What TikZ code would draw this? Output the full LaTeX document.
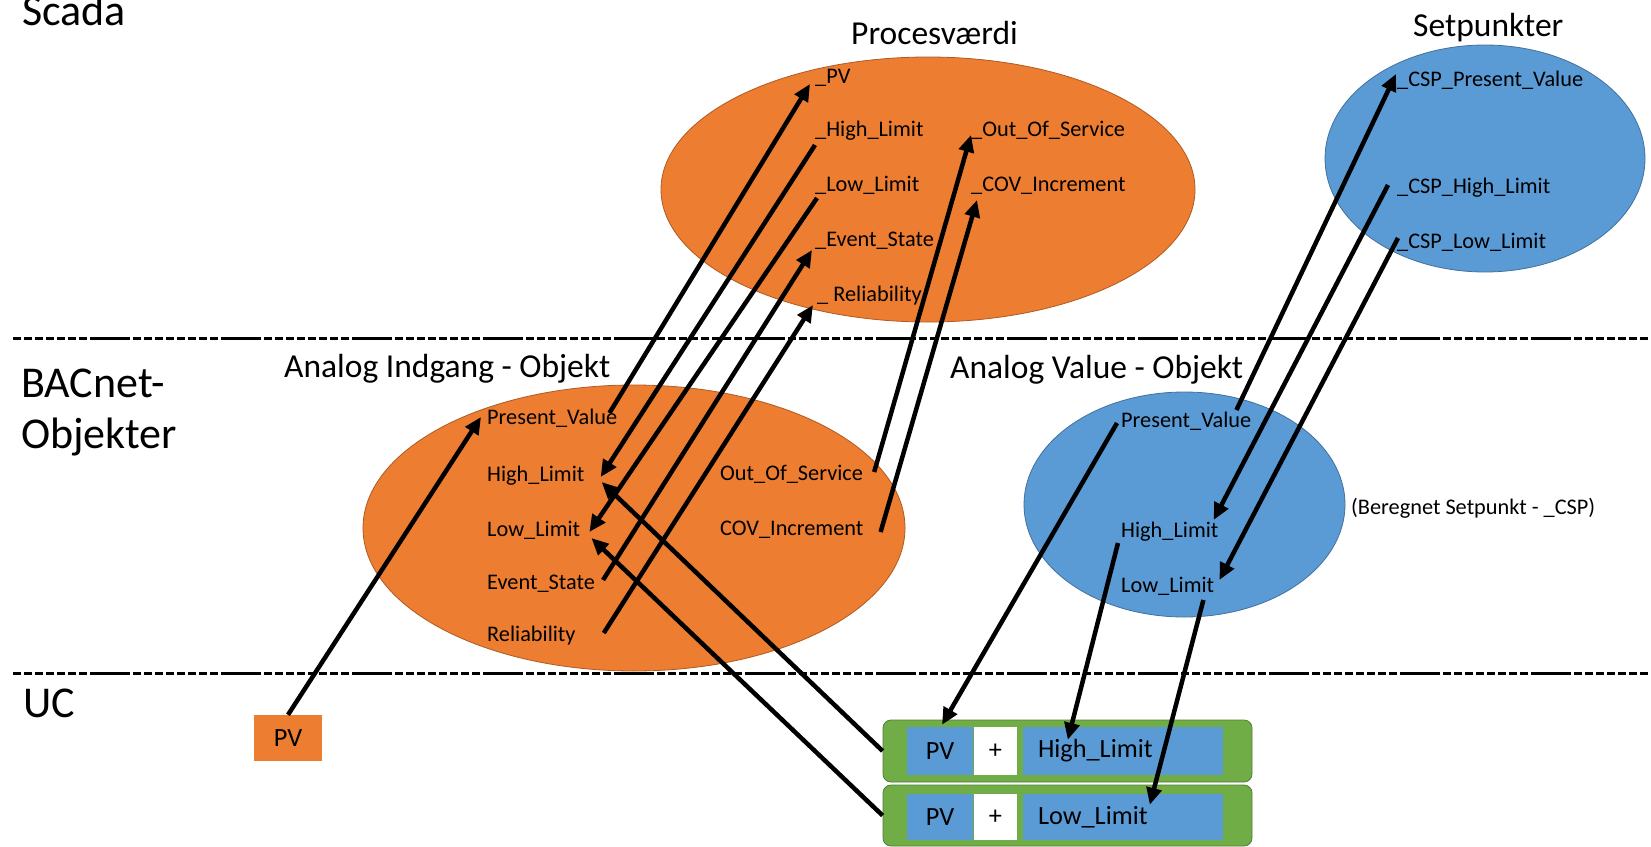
\documentclass[tikz,border=0pt]{standalone}
\usepackage{fontspec}
\setmainfont{Carlito}
\usetikzlibrary{shapes.geometric,arrows.meta,calc}
\definecolor{orng}{HTML}{ED7D31}
\definecolor{orngD}{HTML}{AE5A21}
\definecolor{blu}{HTML}{5B9BD5}
\definecolor{bluD}{HTML}{41719C}
\definecolor{grn}{HTML}{70AD47}
\definecolor{grnD}{HTML}{507E32}
\newcommand\myS{\fontsize{22.3}{26}\selectfont}
\newcommand\myM{\fontsize{33.5}{40}\selectfont}
\newcommand\myL{\fontsize{44}{51}\selectfont}
\newcommand\myB{\fontsize{26.3}{31}\selectfont}
\begin{document}
\begin{tikzpicture}[x=1pt,y=-1pt,
  lbl/.style={anchor=base west,inner sep=0pt,font=\myS},
  ttl/.style={anchor=base west,inner sep=0pt,font=\myM},
  big/.style={anchor=base west,inner sep=0pt,font=\myL},
  ell/.style={ellipse,inner sep=0pt,line width=0.8pt},
  arr/.style={line width=4.5pt,-{Triangle[length=17pt,width=15pt]}},
  sep/.style={line width=3pt,dash pattern=on 40pt off 3pt on 8pt off 3pt on 8pt off 3pt on 8pt off 3pt on 8pt off 3pt on 8pt off 3pt on 8pt off 3pt on 8pt off 3pt on 8pt off 3pt,dash phase=52pt},
  cell/.style={fill=blu,inner sep=0pt,font=\myB},
  grbox/.style={draw=grnD,fill=grn,rounded corners=8pt,minimum width=369pt,inner sep=0pt,line width=0.8pt}]
\useasboundingbox (0,0) rectangle (1651,846);

% separators
\draw[sep] (11,338) -- (1651,338);
\draw[sep] (11,673) -- (1651,673);

% level titles
\node[big] (tScada) at (22,25) {Scada};
\node[big] (tBac1) at (21,397) {BACnet-};
\node[big] (tBac2) at (21,448) {Objekter};
\node[big] (tUC) at (23,717) {UC};

% ellipses
\node[ell,fill=orng,draw=orngD,minimum width=534pt,minimum height=265pt] (scEll) at (928,189.5) {};
\node[ell,fill=blu,draw=bluD,minimum width=320pt,minimum height=227pt] (spEll) at (1485,158.5) {};
\node[ell,fill=orng,draw=orngD,minimum width=542pt,minimum height=286pt] (aiEll) at (634,528) {};
\node[ell,fill=blu,draw=bluD,minimum width=321pt,minimum height=225pt] (avEll) at (1184.5,504.5) {};

% group titles
\node[ttl] (tProc) at (851,44) {Procesværdi};
\node[ttl] (tSet) at (1413,36) {Setpunkter};
\node[ttl] (tAI) at (284,377) {Analog Indgang - Objekt};
\node[ttl] (tAV) at (950,378) {Analog Value - Objekt};

% Scada process values
\node[lbl] (scPV) at (815,83) {\_PV};
\node[lbl] (scHL) at (815,136) {\_High\_Limit};
\node[lbl] (scLL) at (815,191) {\_Low\_Limit};
\node[lbl] (scES) at (815,246) {\_Event\_State};
\node[lbl] (scRel) at (817,301) {\_ Reliability};
\node[lbl] (scOOS) at (971,136) {\_Out\_Of\_Service};
\node[lbl] (scCOV) at (971,191) {\_COV\_Increment};

% Setpunkter
\node[lbl] (cspPV) at (1397,86) {\_CSP\_Present\_Value};
\node[lbl] (cspHL) at (1397,193) {\_CSP\_High\_Limit};
\node[lbl] (cspLL) at (1397,248) {\_CSP\_Low\_Limit};

% Analog input object
\node[lbl] (aiPV) at (487,424) {Present\_Value};
\node[lbl] (aiHL) at (487,481) {High\_Limit};
\node[lbl] (aiLL) at (487,536) {Low\_Limit};
\node[lbl] (aiES) at (487,589) {Event\_State};
\node[lbl] (aiRel) at (487,641) {Reliability};
\node[lbl] (aiOOS) at (720,480) {Out\_Of\_Service};
\node[lbl] (aiCOV) at (720,535) {COV\_Increment};

% Analog value object
\node[lbl] (avPV) at (1121,427) {Present\_Value};
\node[lbl] (avHL) at (1121,537) {High\_Limit};
\node[lbl] (avLL) at (1121,592) {Low\_Limit};
\node[lbl] (avNote) at (1351,514) {(Beregnet Setpunkt - \_CSP)};

% UC
\node[fill=orng,inner sep=0pt,font=\myB,minimum width=68pt,minimum height=46pt] (pvbox) at (288,738) {PV};
\node[grbox,minimum height=62pt] (g1) at (1067.5,751) {};
\node[grbox,minimum height=61pt] (g2) at (1067.5,815.5) {};
\node[cell,minimum width=66pt,minimum height=48pt] (bPV1) at (940,751) {PV};
\node[fill=white,inner sep=0pt,font=\myB,minimum width=43pt,minimum height=48pt] (bPl1) at (995.5,751) {+};
\node[cell,minimum height=48pt,text width=170pt,inner xsep=15pt,align=left] (bHL1) at (1123,751) {High\_Limit};
\node[cell,minimum width=66pt,minimum height=46pt] (bPV2) at (940,817) {PV};
\node[fill=white,inner sep=0pt,font=\myB,minimum width=43pt,minimum height=46pt] (bPl2) at (995.5,817) {+};
\node[cell,minimum height=46pt,text width=170pt,inner xsep=15pt,align=left] (bLL2) at (1123,817) {Low\_Limit};

% connectors
\draw[arr] (pvbox.north) -- ($(aiPV.base west)+(-6,-7)$);
\draw[arr] ($(aiPV.base east)+(-8,-11)$) -- ($(scPV.base west)+(-5,1)$);
\draw[arr] ($(scHL.base west)+(0,9)$) -- ($(aiHL.base east)+(16,-4)$);
\draw[arr] ($(scLL.base west)+(2,7)$) -- ($(aiLL.base east)+(9,-4)$);
\draw[arr] ($(aiES.base east)+(8,-9)$) -- ($(scES.base west)+(-3,4)$);
\draw[arr] ($(aiRel.base east)+(28,-8)$) -- ($(scRel.base west)+(-4,4)$);
\draw[arr] ($(aiOOS.base east)+(11,-8)$) -- ($(scOOS.base west)+(0,-1)$);
\draw[arr] ($(aiCOV.base east)+(17,-3)$) -- ($(scCOV.base west)+(6,9)$);
\draw[arr] ($(avPV.base east)+(-15,-17)$) -- ($(cspPV.base west)+(-1,-12)$);
\draw[arr] ($(cspHL.base west)+(-9,-8)$) -- ($(avHL.base east)+(-5,-17)$);
\draw[arr] ($(cspLL.base west)+(1,-10)$) -- ($(avLL.base east)+(5,-12)$);
\draw[arr] ($(avPV.base west)+(-4,-4)$) -- ($(bPV1.north)+(2,-2)$);
\draw[arr] ($(avHL.base west)+(-3,6)$) -- ($(bHL1.north west)+(45,13)$);
\draw[arr] ($(avLL.base east)+(-11,8)$) -- ($(bLL2.north west)+(127,11)$);
\draw[arr] (g1.west) -- ($(aiHL.base east)+(17,1)$);
\draw[arr] (g2.west) -- ($(aiLL.base east)+(11,2)$);
\end{tikzpicture}
\end{document}
